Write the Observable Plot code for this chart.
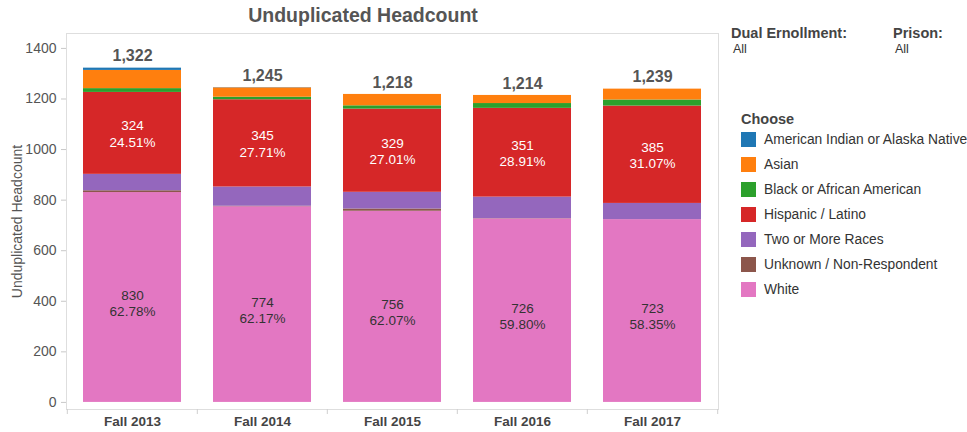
<!DOCTYPE html>
<html><head><meta charset="utf-8">
<script src="https://cdn.jsdelivr.net/npm/d3@7"></script>
<script src="https://cdn.jsdelivr.net/npm/@observablehq/plot@0.6"></script>
<style>
body{margin:0;background:#fff;font-family:"Liberation Sans",Arial,sans-serif;}
#wrap{position:relative;width:967px;height:432px;overflow:hidden;background:#fff;}
#chart{position:absolute;left:0;top:0;}
#title{position:absolute;left:0;width:726px;top:4px;text-align:center;font-size:19.5px;font-weight:bold;color:#555;}
.flt{position:absolute;top:25px;font-size:13px;color:#333;}
.flt b{display:block;font-size:14.5px;color:#444;margin-bottom:1px;}
.flt span{display:block;font-size:12.5px;padding-left:2px;}
#legend{position:absolute;left:741px;top:112px;font-size:13.8px;color:#333;}
#legend .hd{font-weight:bold;font-size:14.5px;color:#444;height:15px;line-height:15px;}
#legend .it{display:flex;align-items:center;height:25px;white-space:nowrap;}
#legend .sw{width:15px;height:15px;margin-right:8px;flex:none;}
</style></head>
<body><div id="wrap">
<div id="chart"></div>
<div id="title">Unduplicated Headcount</div>
<div class="flt" style="left:731px"><b>Dual Ernollment:</b><span>All</span></div>
<div class="flt" style="left:893px"><b>Prison:</b><span>All</span></div>
<div id="legend"></div>
</div>
<script>
const years = ["Fall 2013","Fall 2014","Fall 2015","Fall 2016","Fall 2017"];
const races = ["American Indian or Alaska Native","Asian","Black or African American","Hispanic / Latino","Two or More Races","Unknown / Non-Respondent","White"];
const colors = ["#1f77b4","#ff7f0e","#2ca02c","#d62728","#9467bd","#8c564b","#e377c2"];
const amInd    = [9,1,0,0,0];
const asian    = [72,37,45,32,43];
const black    = [15,10,13,19,24];
const hispanic = [324,345,329,351,385];
const twoMore  = [65,76,66,85,64];
const unknown  = [7,2,9,1,0];
const white    = [830,774,756,726,723];
const yTicks = [0,200,400,600,800,1000,1200,1400];

const series = [amInd, asian, black, hispanic, twoMore, unknown, white];
// stack from bottom: White, Unknown, Two, Hispanic, Black, Asian, AI
const rows = [];
const totals = [];
years.forEach((yr, j) => {
  let acc = 0;
  for (let k = races.length - 1; k >= 0; k--) {
    const v = series[k][j];
    rows.push({year: yr, race: races[k], value: v, y1: acc, y2: acc + v});
    acc += v;
  }
  totals.push({year: yr, total: acc});
});
const totalOf = Object.fromEntries(totals.map(d => [d.year, d.total]));
const labelRows = rows.filter(d => d.race === "White" || d.race === "Hispanic / Latino")
  .map(d => ({...d, mid: (d.y1 + d.y2) / 2,
    label: d.value + "\n" + (100 * d.value / totalOf[d.year]).toFixed(2) + "%"}));

const W = 720, H = 432, mL = 66, mR = 2, mT = 33, mB = 23;
const yDomain = [-28, 1459];
const step = (W - mL - mR) / years.length;
const unitsPerPx = (yDomain[1] - yDomain[0]) / (H - mT - mB);

const plot = Plot.plot({
  width: W, height: H,
  marginLeft: mL, marginRight: mR, marginTop: mT, marginBottom: mB,
  style: {fontFamily: '"Liberation Sans", Arial, sans-serif', fontSize: "13px", background: "white"},
  x: {domain: years, paddingInner: 0.25, paddingOuter: 0.125, label: null},
  y: {domain: yDomain, label: null},
  color: {domain: races, range: colors},
  marks: [
    Plot.frame({stroke: "#dedede"}),
    Plot.barY(rows, {x: "year", y1: "y1", y2: "y2", fill: "race"}),
    Plot.text(labelRows.filter(d => d.race === "White"), {x: "year", y: "mid", text: "label", lineHeight: 1.18,
      fontSize: 13.5, dy: 5, fill: "#333"}),
    Plot.text(labelRows.filter(d => d.race !== "White"), {x: "year", y: "mid", text: "label", lineHeight: 1.2,
      fontSize: 13.5, fill: "white"}),
    Plot.text(totals, {x: "year", y: "total", text: d => d3.format(",")(d.total), dy: -12,
      fontWeight: "bold", fontSize: 16, fill: "#555"}),
    Plot.axisY({ticks: yTicks, tickFormat: d => String(d), tickSize: 5, tickPadding: 5, stroke: "#c8c8c8", fill: "#555", fontSize: 14,
      label: "Unduplicated Headcount", labelAnchor: "center", labelArrow: "none", labelOffset: 54}),
    Plot.axisX({tickSize: 0, tickPadding: 7, fontWeight: "bold", fontSize: 13.5, fill: "#444", label: null}),
    Plot.ruleX(years, {x: d => d, dx: -step / 2, y1: yDomain[0], y2: yDomain[0] - 5 * unitsPerPx, stroke: "#cfcfcf"}),
    Plot.ruleX(years.slice(-1), {x: d => d, dx: step / 2, y1: yDomain[0], y2: yDomain[0] - 5 * unitsPerPx, stroke: "#cfcfcf"})
  ]
});
document.getElementById("chart").appendChild(plot);

const lg = document.getElementById("legend");
lg.innerHTML = '<div class="hd">Choose</div>' + races.map((r, i) =>
  `<div class="it"><div class="sw" style="background:${colors[i]}"></div>${r}</div>`).join("");
</script>
</body></html>
